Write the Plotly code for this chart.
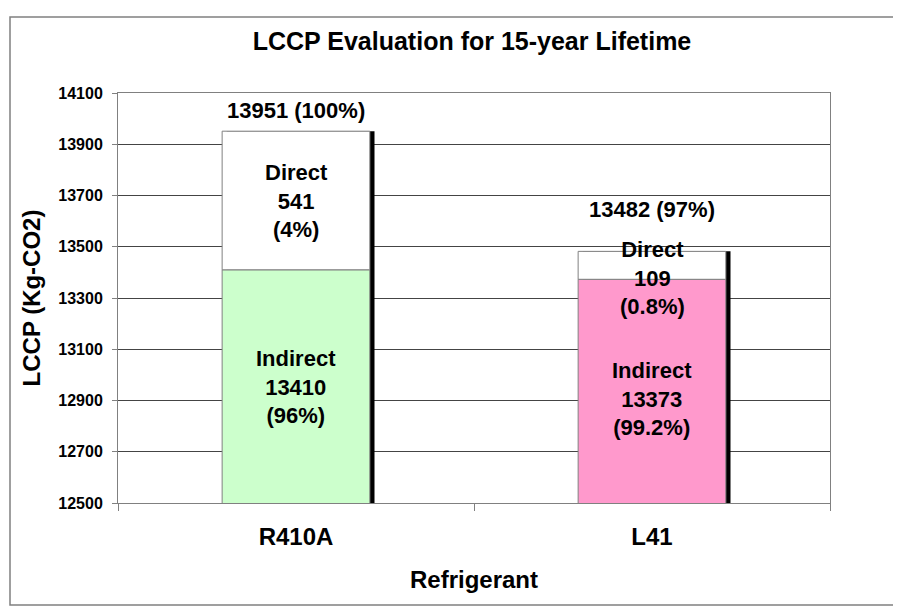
import plotly.graph_objects as go

categories = ["R410A", "L41"]
indirect = [13410, 13373]
direct = [541, 109]
indirect_pct = ["96%", "99.2%"]
direct_pct = ["4%", "0.8%"]
total_pct = ["100%", "97%"]
totals = [a + b for a, b in zip(indirect, direct)]

FONT = "Liberation Sans, Arial, sans-serif"
BW = 0.415
SH = 0.013

W, H = 893, 602
L, R, T, B = 110, 71, 85, 107
PW, PH = W - L - R, H - T - B

fig = go.Figure()
# shadow
fig.add_trace(go.Bar(x=categories, y=totals, width=BW, offset=-BW / 2 + SH,
                     marker=dict(color="black", line=dict(width=0)),
                     hoverinfo="skip", showlegend=False))
fig.add_trace(go.Bar(x=categories, y=indirect, width=BW, offset=-BW / 2,
                     marker=dict(color=["#CCFFCC", "#FF99CC"], line=dict(color="#808080", width=1)),
                     name="Indirect", showlegend=False))
fig.add_trace(go.Bar(x=categories, y=direct, base=indirect, width=BW, offset=-BW / 2,
                     marker=dict(color="white", line=dict(color="#808080", width=1)),
                     name="Direct", showlegend=False))

total_shift = [6, 27]
direct_shift = [0, -13]
indirect_shift = [-1, -8]
y0 = 12500
LBL = dict(family=FONT, size=22, color="black")
for i, c in enumerate(categories):
    fig.add_annotation(x=c, y=totals[i], text=f"<b>{totals[i]} ({total_pct[i]})</b>",
                       showarrow=False, yanchor="bottom", yshift=total_shift[i], font=LBL)
    fig.add_annotation(x=c, y=indirect[i] + direct[i] / 2,
                       text=f"<b>Direct<br>{direct[i]}<br>({direct_pct[i]})</b>",
                       showarrow=False, yanchor="middle", yshift=direct_shift[i], font=LBL)
    fig.add_annotation(x=c, y=(y0 + indirect[i]) / 2,
                       text=f"<b>Indirect<br>{indirect[i]}<br>({indirect_pct[i]})</b>",
                       showarrow=False, yanchor="middle", yshift=indirect_shift[i], font=LBL)

# outer chart border
fig.add_shape(type="rect", xref="paper", yref="paper",
              x0=(2 - L) / PW, x1=(889 - L) / PW,
              y0=(T + PH - 597) / PH, y1=(T + PH - 9) / PH,
              line=dict(color="#808080", width=1.5), fillcolor="rgba(0,0,0,0)", layer="below")

fig.update_layout(
    width=W, height=H,
    margin=dict(l=L, r=R, t=T, b=B),
    paper_bgcolor="white", plot_bgcolor="white",
    barmode="overlay",
    title=dict(text="<b>LCCP Evaluation for 15-year Lifetime</b>", x=464 / W, xanchor="center",
               y=1 - 33 / H, yanchor="middle",
               font=dict(family=FONT, size=25, color="black")),
    font=dict(family=FONT, color="black"),
    xaxis=dict(type="category", range=[-0.5, 1.5], showline=True, linecolor="#808080", mirror=True,
               ticks="outside", tickson="boundaries", ticklen=7, tickcolor="#808080",
               tickfont=dict(family=FONT, size=24, color="black", weight="bold"),
               ticklabelstandoff=12, showgrid=False,
               title=dict(text="<b>Refrigerant</b>", font=dict(family=FONT, size=24, color="black"), standoff=22)),
    yaxis=dict(range=[12500, 14100], tick0=12500, dtick=200, showline=True, linecolor="#808080", mirror=True,
               ticks="outside", ticklen=5, tickcolor="#808080",
               showgrid=True, gridcolor="#444444", gridwidth=1,
               tickfont=dict(family=FONT, size=16, color="black", weight="bold"),
               tickformat="d", ticklabelstandoff=6,
               title=dict(text="<b>LCCP (Kg-CO2)</b>", font=dict(family=FONT, size=24, color="black"), standoff=10)),
)

fig.write_html("out.html")
